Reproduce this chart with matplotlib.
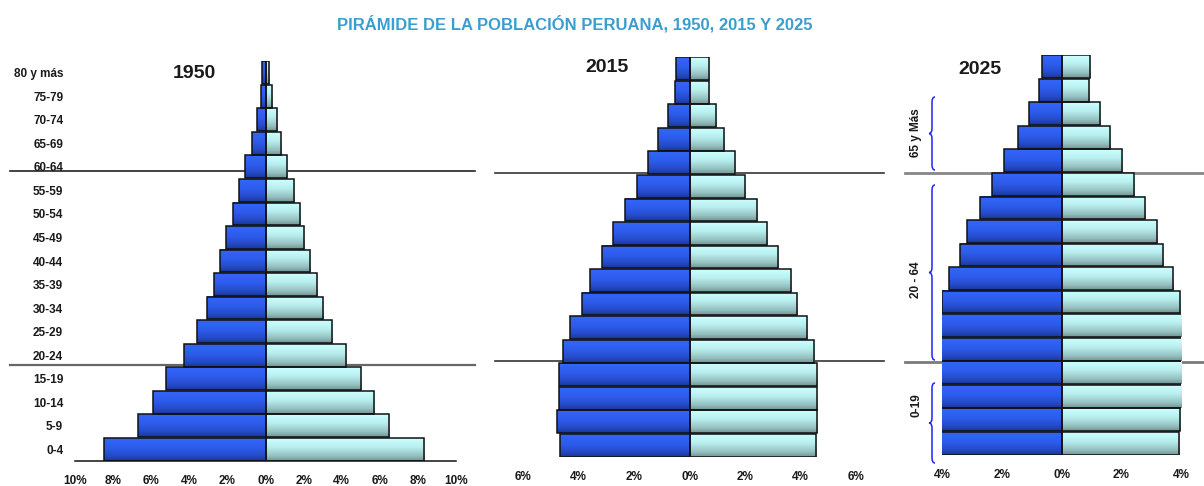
import numpy as np
import matplotlib
matplotlib.use("Agg")
import matplotlib.pyplot as plt
from matplotlib.colors import LinearSegmentedColormap
from matplotlib.lines import Line2D
from matplotlib.path import Path
from matplotlib.patches import PathPatch
from matplotlib.transforms import Affine2D

# ---------------- data ----------------
age_groups = ["0-4", "5-9", "10-14", "15-19", "20-24", "25-29", "30-34", "35-39",
              "40-44", "45-49", "50-54", "55-59", "60-64", "65-69", "70-74",
              "75-79", "80 y más"]

male_1950 = [8.5, 6.7, 5.9, 5.2, 4.3, 3.6, 3.05, 2.7, 2.4, 2.05, 1.7, 1.4, 1.05,
             0.7, 0.47, 0.26, 0.18]
female_1950 = [8.3, 6.5, 5.7, 5.0, 4.25, 3.5, 3.0, 2.7, 2.35, 2.0, 1.8, 1.5, 1.15,
               0.8, 0.58, 0.36, 0.2]

male_2015 = [4.66, 4.78, 4.72, 4.7, 4.57, 4.3, 3.87, 3.6, 3.15, 2.75, 2.33, 1.89,
             1.48, 1.13, 0.78, 0.53, 0.47]
female_2015 = [4.55, 4.6, 4.59, 4.59, 4.5, 4.25, 3.86, 3.65, 3.19, 2.8, 2.44, 1.99,
               1.64, 1.24, 0.96, 0.7, 0.72]

male_2025 = [4.1, 4.1, 4.1, 4.1, 4.1, 4.1, 4.0, 3.76, 3.39, 3.16, 2.73, 2.33,
             1.91, 1.47, 1.1, 0.74, 0.66]
female_2025 = [3.93, 3.98, 4.04, 4.07, 4.07, 4.05, 3.96, 3.73, 3.4, 3.18, 2.79,
               2.42, 2.04, 1.63, 1.28, 0.92, 0.97]

years = ["1950", "2015", "2025"]
xticks_1950 = [-10, -8, -6, -4, -2, 0, 2, 4, 6, 8, 10]
xticks_2015 = [-6, -4, -2, 0, 2, 4, 6]
xticks_2025 = [-4, -2, 0, 2, 4]
brace_labels = ["65 y Más", "20 - 64", "0-19"]
title = "PIRÁMIDE DE LA POBLACIÓN PERUANA, 1950, 2015 Y 2025"

# ---------------- styling ----------------
W, H = 1204, 486
plt.rcParams["font.family"] = ["Liberation Sans", "DejaVu Sans"]

fig = plt.figure(figsize=(W / 100, H / 100), dpi=100)
PX = Affine2D().scale(1.0 / W, -1.0 / H).translate(0, 1) + fig.transFigure

male_cmap = LinearSegmentedColormap.from_list(
    "m", [(0.0, "#3466F8"), (0.45, "#2D5BEA"), (0.8, "#2449C4"), (1.0, "#1A3590")])
female_cmap = LinearSegmentedColormap.from_list(
    "f", [(0.0, "#CCFFFF"), (0.4, "#B9EEEE"), (0.8, "#93BDBD"), (1.0, "#729292")])
grad = np.linspace(0, 1, 64).reshape(-1, 1)

BAR_H = 0.97
ypos = np.arange(len(age_groups))
TXT = "#1a1a1a"


def px_axes(l, t, r, b):
    return fig.add_axes([l / W, 1 - b / H, (r - l) / W, (b - t) / H])


def draw_side(ax, vals, sign, cmap):
    widths = [sign * v for v in vals]
    bars = ax.barh(ypos, widths, height=BAR_H, facecolor="none",
                   edgecolor="#111111", linewidth=1.1, zorder=3)
    for b in bars:
        x0, y0 = b.get_x(), b.get_y()
        w, h = b.get_width(), b.get_height()
        ax.imshow(grad, cmap=cmap, extent=[min(x0, x0 + w), max(x0, x0 + w), y0, y0 + h],
                  aspect="auto", origin="upper", zorder=2, interpolation="bilinear")


def setup(ax, male, female, ticks, lim, show_y=False, show_base=False):
    draw_side(ax, male, -1, male_cmap)
    draw_side(ax, female, 1, female_cmap)
    ax.set_xlim(-lim, lim)
    ax.set_ylim(-0.5, len(age_groups) - 0.5)
    ax.patch.set_visible(False)
    for s in ["top", "right", "left", "bottom"]:
        ax.spines[s].set_visible(False)
    if show_base:
        ax.spines["bottom"].set_visible(True)
        ax.spines["bottom"].set_color("#111111")
        ax.spines["bottom"].set_linewidth(1.1)
    ax.set_xticks(ticks)
    ax.set_xticklabels([f"{abs(t)}%" for t in ticks])
    ax.tick_params(axis="x", length=0, pad=10, labelsize=8.5, colors=TXT)
    for lab in ax.get_xticklabels():
        lab.set_fontweight("bold")
    if show_y:
        ax.set_yticks(ypos)
        ax.set_yticklabels(age_groups)
        ax.tick_params(axis="y", length=0, pad=8.5, labelsize=8.5, colors=TXT)
        for lab in ax.get_yticklabels():
            lab.set_fontweight("bold")
    else:
        ax.set_yticks([])


ax1 = px_axes(75, 61, 456, 461)
ax2 = px_axes(523, 57, 856, 457)
ax3 = px_axes(942, 55, 1181, 455)
setup(ax1, male_1950, female_1950, xticks_1950, 10, show_y=True, show_base=True)
setup(ax2, male_2015, female_2015, xticks_2015, 6)
setup(ax3, male_2025, female_2025, xticks_2025, 4)

# ---------------- decorations (reference pixel coords) ----------------
fig.text(575 / W, 1 - 24 / H, title, ha="center", va="center", fontsize=12,
         fontweight="bold", color="#3A9ECF")

for (x, y), yr in zip([(194, 74), (607, 68), (980, 69)], years):
    fig.text(x / W, 1 - y / H, yr, ha="center", va="center", fontsize=14,
             fontweight="bold", color=TXT)

divs = [((10, 475), 171, "#222222", 1.2), ((10, 475), 365, "#666666", 1.6),
        ((495, 884), 173, "#333333", 1.2), ((495, 884), 361, "#333333", 1.2),
        ((905, 1204), 173, "#888888", 2.0), ((905, 1204), 362, "#7a7a7a", 2.0)]
for (xa, xb), y, c, lw in divs:
    fig.add_artist(Line2D([xa, xb], [y, y], color=c, lw=lw, transform=PX, zorder=-1))


def brace(x, ytop, ybot, w=3.0, r=5.0):
    ym = (ytop + ybot) / 2.0
    verts = [(x + w, ytop), (x, ytop), (x, ytop + r),
             (x, ym - r),
             (x, ym), (x - w, ym),
             (x, ym), (x, ym + r),
             (x, ybot - r),
             (x, ybot), (x + w, ybot)]
    codes = [Path.MOVETO, Path.CURVE3, Path.CURVE3, Path.LINETO,
             Path.CURVE3, Path.CURVE3, Path.CURVE3, Path.CURVE3,
             Path.LINETO, Path.CURVE3, Path.CURVE3]
    fig.add_artist(PathPatch(Path(verts, codes), fill=False, edgecolor="#2222ff",
                             lw=1.1, transform=PX))


for (yt, yb, ly), lab in zip([(97, 170, 133), (185, 360, 280), (383, 463, 405)], brace_labels):
    brace(932, yt, yb)
    fig.text(916 / W, 1 - ly / H, lab, rotation=90, ha="center", va="center",
             fontsize=8.5, fontweight="bold", color=TXT)

fig.savefig("out.png", dpi=100)
